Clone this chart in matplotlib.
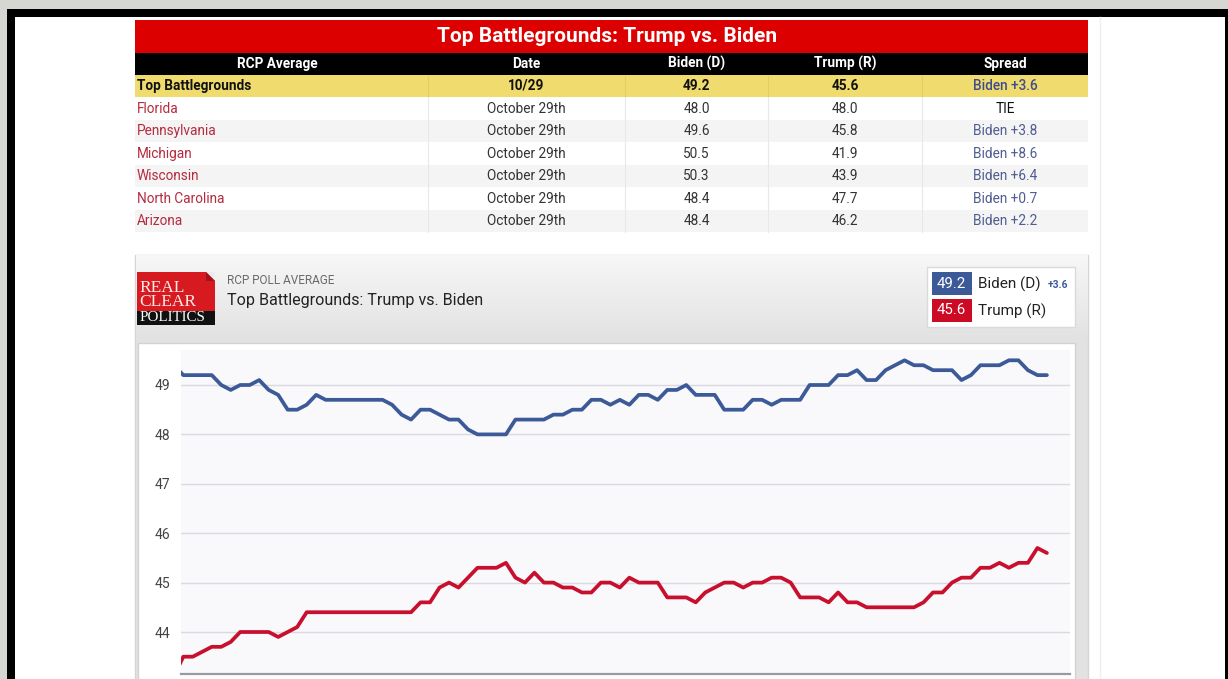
import matplotlib
matplotlib.use('Agg')
import matplotlib.pyplot as plt
from matplotlib.patches import Rectangle, Polygon
import numpy as np

plt.rcParams['font.family'] = ['Roboto', 'DejaVu Sans']

# ---------------- data ----------------
title = 'Top Battlegrounds: Trump vs. Biden'
headers = ['RCP Average', 'Date', 'Biden (D)', 'Trump (R)', 'Spread']
top_row = ['Top Battlegrounds', '10/29', '49.2', '45.6', 'Biden +3.6']
states = ['Florida', 'Pennsylvania', 'Michigan', 'Wisconsin', 'North Carolina', 'Arizona']
dates = ['October 29th'] * 6
biden_state = ['48.0', '49.6', '50.5', '50.3', '48.4', '48.4']
trump_state = ['48.0', '45.8', '41.9', '43.9', '47.7', '46.2']
spreads = ['TIE', 'Biden +3.8', 'Biden +8.6', 'Biden +6.4', 'Biden +0.7', 'Biden +2.2']

biden_series = [49.4, 49.2, 49.2, 49.2, 49.2, 49.0, 48.9, 49.0, 49.0, 49.1,
                48.9, 48.8, 48.5, 48.5, 48.6, 48.8, 48.7, 48.7, 48.7, 48.7,
                48.7, 48.7, 48.7, 48.6, 48.4, 48.3, 48.5, 48.5, 48.4, 48.3,
                48.3, 48.1, 48.0, 48.0, 48.0, 48.0, 48.3, 48.3, 48.3, 48.3,
                48.4, 48.4, 48.5, 48.5, 48.7, 48.7, 48.6, 48.7, 48.6, 48.8,
                48.8, 48.7, 48.9, 48.9, 49.0, 48.8, 48.8, 48.8, 48.5, 48.5,
                48.5, 48.7, 48.7, 48.6, 48.7, 48.7, 48.7, 49.0, 49.0, 49.0,
                49.2, 49.2, 49.3, 49.1, 49.1, 49.3, 49.4, 49.5, 49.4, 49.4,
                49.3, 49.3, 49.3, 49.1, 49.2, 49.4, 49.4, 49.4, 49.5, 49.5,
                49.3, 49.2, 49.2]
trump_series = [43.1, 43.5, 43.5, 43.6, 43.7, 43.7, 43.8, 44.0, 44.0, 44.0,
                44.0, 43.9, 44.0, 44.1, 44.4, 44.4, 44.4, 44.4, 44.4, 44.4,
                44.4, 44.4, 44.4, 44.4, 44.4, 44.4, 44.6, 44.6, 44.9, 45.0,
                44.9, 45.1, 45.3, 45.3, 45.3, 45.4, 45.1, 45.0, 45.2, 45.0,
                45.0, 44.9, 44.9, 44.8, 44.8, 45.0, 45.0, 44.9, 45.1, 45.0,
                45.0, 45.0, 44.7, 44.7, 44.7, 44.6, 44.8, 44.9, 45.0, 45.0,
                44.9, 45.0, 45.0, 45.1, 45.1, 45.0, 44.7, 44.7, 44.7, 44.6,
                44.8, 44.6, 44.6, 44.5, 44.5, 44.5, 44.5, 44.5, 44.5, 44.6,
                44.8, 44.8, 45.0, 45.1, 45.1, 45.3, 45.3, 45.4, 45.3, 45.4,
                45.4, 45.7, 45.6]
yticks = [44, 45, 46, 47, 48, 49]
legend_biden = '49.2'
legend_trump = '45.6'
legend_spread = '+3.6'

# ---------------- colours ----------------
BLUE = '#3d5a98'
RED = '#c8102e'
STATE_RED = '#b52b3f'
SPREAD_BLUE = '#4f5d91'
BODY = '#333333'

W, H = 1228, 679
fig = plt.figure(figsize=(W / 100, H / 100), dpi=100)
fig.patch.set_facecolor('#d6d6d2')

bg = fig.add_axes([0, 0, 1, 1])
bg.set_xlim(0, W)
bg.set_ylim(H, 0)
bg.axis('off')


def rect(x0, y0, x1, y1, fc, ec='none', lw=0, z=1):
    bg.add_patch(Rectangle((x0, y0), x1 - x0, y1 - y0, facecolor=fc,
                           edgecolor=ec, linewidth=lw, zorder=z))


# page frame
rect(7, 9, W + 5, H + 5, '#000000')
rect(15, 17, 1225, H + 5, '#ffffff', z=1.1)
bg.plot([1100, 1100], [17, H + 5], color='#efefef', lw=1, zorder=1.2)

# ---------------- table ----------------
TX0, TX1 = 135, 1088
cols = [135, 428, 625, 768, 922, 1088]
centers = [277, 526.5, 696.5, 845, 1005]
rect(TX0, 20, TX1, 52.5, '#dd0000', z=2)
bg.text(607, 37, title, color='white', fontsize=15, fontweight='bold',
        ha='center', va='center', zorder=5)
rect(TX0, 52.5, TX1, 74.5, '#000000', z=2)
for i, h in enumerate(headers):
    bg.text(centers[i], 63.8, h, color='white', fontsize=9.8, fontweight='bold',
            ha='center', va='center', zorder=5)
rect(TX0, 74.5, TX1, 97, '#efdb6e', z=2)
bg.text(137, 86, top_row[0], color='#111', fontsize=9.8, fontweight='bold',
        ha='left', va='center', zorder=5)
for i in range(1, 4):
    bg.text(centers[i], 86, top_row[i], color='#111', fontsize=9.8, fontweight='bold',
            ha='center', va='center', zorder=5)
bg.text(centers[4], 86, top_row[4], color='#3f4d8c', fontsize=9.8, fontweight='medium',
        ha='center', va='center', zorder=5)
for c in cols[1:-1]:
    bg.plot([c, c], [74.5, 97], color='#e2cf63', lw=0.8, zorder=3)

RH = 22.5
for r in range(len(states)):
    y0 = 97 + r * RH
    rect(TX0, y0, TX1, y0 + RH, '#ffffff' if r % 2 == 0 else '#f4f4f4', z=2)
    yc = y0 + RH / 2 + 0.5
    bg.text(137, yc, states[r], color=STATE_RED, fontsize=9.8, ha='left', va='center', zorder=5)
    bg.text(centers[1], yc, dates[r], color=BODY, fontsize=9.8, ha='center', va='center', zorder=5)
    bg.text(centers[2], yc, biden_state[r], color=BODY, fontsize=9.8, ha='center', va='center', zorder=5)
    bg.text(centers[3], yc, trump_state[r], color=BODY, fontsize=9.8, ha='center', va='center', zorder=5)
    sc = '#111' if spreads[r] == 'TIE' else SPREAD_BLUE
    bg.text(centers[4], yc, spreads[r], color=sc, fontsize=9.8, ha='center', va='center', zorder=5)
for c in cols[1:-1]:
    bg.plot([c, c], [97, 97 + 6 * RH], color='#e8e8e8', lw=0.8, zorder=3)

# ---------------- chart panel ----------------
rect(135, 255, 1088, H + 5, '#e2e2e2', ec='#d4d4d4', lw=1, z=2)
grad = np.linspace(0, 1, 100).reshape(-1, 1)
bg.imshow(grad, extent=[135.5, 1087.5, 340, 255.5], cmap=matplotlib.colors.LinearSegmentedColormap.from_list(
    'g', ['#f7f7f7', '#e2e2e2']), aspect='auto', zorder=2.5)
bg.set_xlim(0, W)
bg.set_ylim(H, 0)
rect(138, 343, 1075, H + 5, '#ffffff', ec='#d2d2d2', lw=1, z=3)

# logo
rect(137, 272, 215, 311, '#d71920', z=4)
rect(137, 311, 215, 325, '#111111', z=4)
bg.add_patch(Polygon([(206, 272), (215, 272), (215, 281)], closed=True, facecolor='#ececec',
                     edgecolor='none', zorder=4.5))
bg.add_patch(Polygon([(206, 272), (215, 281), (206, 281)], closed=True, facecolor='#a3121a',
                     edgecolor='none', zorder=4.5))
serif = ['Liberation Serif', 'DejaVu Serif']
bg.text(139.5, 288, 'REAL', family=serif, color='#ffe9e9', fontsize=12.5, ha='left', va='center', zorder=5)
bg.text(139.5, 302.5, 'CLEAR', family=serif, color='#ffe9e9', fontsize=12.5, ha='left', va='center', zorder=5)
bg.text(139.5, 317.5, 'POLITICS', family=serif, color='white', fontsize=10.8, ha='left', va='center', zorder=5)

bg.text(227, 280, 'RCP POLL AVERAGE', color='#6a6a6a', fontsize=8.5, ha='left', va='center', zorder=5)
bg.text(227, 301, title, color='#222', fontsize=11.6, ha='left', va='center', zorder=5)

# legend box
rect(927, 267, 1075, 327, '#ffffff', ec='#dadada', lw=1, z=4)
rect(931.5, 272, 971.5, 294.5, BLUE, z=5)
rect(931.5, 298.5, 971.5, 321.5, '#cc0a24', z=5)
bg.text(951.5, 283.5, legend_biden, color='white', fontsize=10.8, ha='center', va='center', zorder=6)
bg.text(951.5, 310.5, legend_trump, color='white', fontsize=10.8, ha='center', va='center', zorder=6)
bg.text(978, 284, 'Biden (D)', color='#222', fontsize=11, ha='left', va='center', zorder=6)
bg.text(1047.5, 285.5, legend_spread, color=BLUE, fontsize=7.4, fontweight='bold', ha='left', va='center', zorder=6)
bg.text(978, 311, 'Trump (R)', color='#222', fontsize=11, ha='left', va='center', zorder=6)

# ---------------- line chart ----------------
PX_L, PX_R, PX_T, PX_B = 181, 1070, 350, 674
ax = fig.add_axes([PX_L / W, (H - PX_B) / H, (PX_R - PX_L) / W, (PX_B - PX_T) / H])
ax.set_facecolor('#f9f9fc')
ppu = 49.4
ax.set_ylim(44 - (PX_B - 632) / ppu, 49 + (385 - PX_T) / ppu)
x = np.arange(len(biden_series))
step = 9.49
ax.set_xlim(1 - (183.3 - PX_L) / step, 1 + (PX_R - 183.3) / step)
for t in yticks:
    ax.axhline(t, color='#d9d9e1', lw=1, zorder=1)
ax.plot(x, biden_series, color=BLUE, lw=2.7, solid_joinstyle='round', solid_capstyle='round', zorder=3)
ax.plot(x, trump_series, color=RED, lw=2.7, solid_joinstyle='round', solid_capstyle='round', zorder=3)
ax.set_yticks(yticks)
ax.set_yticklabels([str(t) for t in yticks])
ax.tick_params(axis='y', length=0, pad=7.9, labelsize=10, labelcolor='#444')
ax.set_xticks([])
for s in ['top', 'right', 'left']:
    ax.spines[s].set_visible(False)
ax.spines['bottom'].set_color('#9a9aa2')
ax.spines['bottom'].set_linewidth(1.6)

fig.savefig('out.png', dpi=100, facecolor=fig.get_facecolor())
